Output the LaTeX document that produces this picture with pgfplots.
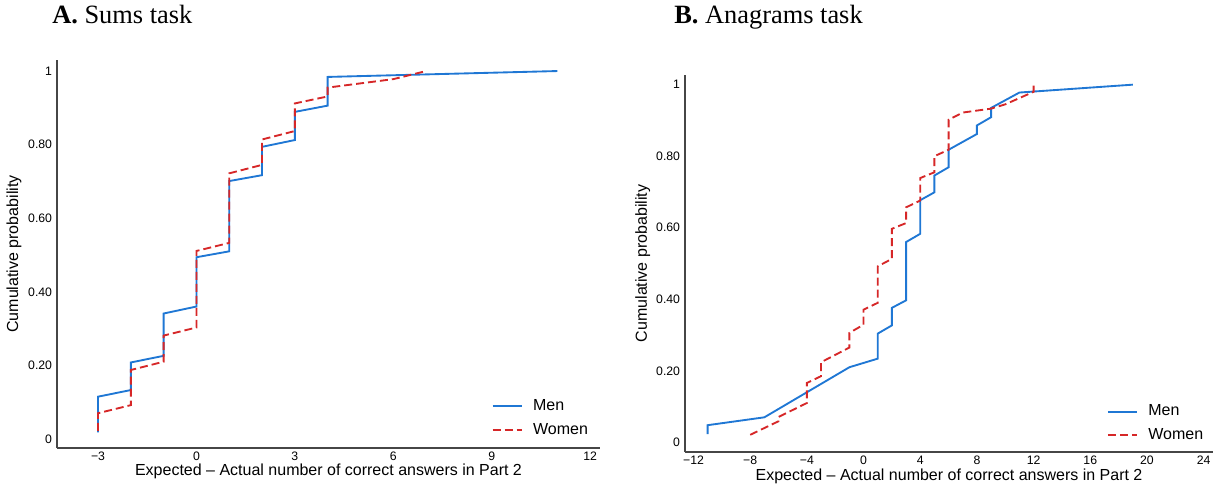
\documentclass[border=0pt]{standalone}
\usepackage{fontspec}
\setmainfont{Liberation Sans}
\newfontfamily\titlefont{Liberation Serif}
\usepackage{pgfplots}
\pgfplotsset{compat=1.18}
\definecolor{menblue}{RGB}{31,119,212}
\definecolor{womenred}{RGB}{214,39,40}
\definecolor{axgray}{RGB}{70,70,70}
\pgfplotsset{
  cdfstyle/.style={
    scale only axis,
    axis lines*=left,
    axis line style={axgray, line width=0.9pt},
    major tick length=0pt,
    tick style={draw=none},
    ytick={0,0.2,0.4,0.6,0.8,1},
    yticklabels={0,0.20,0.40,0.60,0.80,1},
    tick label style={font=\fontsize{9.2}{10}\selectfont, text=black},
    yticklabel style={inner sep=0pt, anchor=east, xshift=-3.5pt},
    xticklabel style={inner sep=0pt, anchor=north, yshift=-2.8pt},
    label style={font=\fontsize{12}{14}\selectfont},
    xlabel={Expected – Actual number of correct answers in Part 2},
    ylabel={Cumulative probability},
    legend style={draw=none, fill=none, inner sep=0pt, outer sep=0pt,
      font=\fontsize{12}{14}\selectfont, row sep=4.75pt,
      nodes={inner sep=1pt, text height=8.5pt, text depth=2.5pt},
      /tikz/every odd column/.append style={column sep=6.5pt},
      anchor=south west},
    legend cell align=left,
    legend image code/.code={\draw[#1, line width=1.6pt] (0pt,0pt) -- (22pt,0pt);},
    clip=false,
  },
  menline/.style={menblue, line width=1.4pt},
  womenline/.style={womenred, line width=1.4pt, dash pattern=on 6pt off 3pt},
}
\begin{document}
\begin{tikzpicture}
\useasboundingbox (0,0) rectangle (911.25pt,-364.5pt);
\node[anchor=base west, inner sep=0pt, font=\titlefont\fontsize{19.8}{22}\selectfont] at (39pt,-17.5pt) {\textbf{A.} Sums task};
\node[anchor=base west, inner sep=0pt, font=\titlefont\fontsize{19.8}{22}\selectfont] at (505.5pt,-17.8pt) {\textbf{B.} Anagrams task};

\begin{axis}[cdfstyle,
  at={(42.75pt,-336pt)}, anchor=south west,
  width=407.25pt, height=291pt,
  xmin=-4.25, xmax=12.3, ymin=-0.0245, ymax=1.03,
  xtick={-3,0,3,6,9,12},
  xticklabels={−3,0,3,6,9,12},
  xlabel style={at={(axis description cs:0.5,0)}, anchor=base, yshift=-20.5pt},
  ylabel style={at={(axis description cs:-0.079,0.5)}, anchor=center},
  legend style={at={(axis description cs:0.8005,0.0240)}},
]
\addplot[menline] coordinates {
(-3,0.018) (-3,0.115) (-2,0.133) (-2,0.208) (-1,0.226) (-1,0.341) (0,0.360) (0,0.494)
(1,0.510) (1,0.701) (2,0.717) (2,0.794) (3,0.8125) (3,0.889) (4,0.906) (4,0.984) (11,1.0)};
\addlegendentry{Men}
\addplot[womenline] coordinates {
(-3,0.022) (-3,0.070) (-2,0.092) (-2,0.1875) (-1,0.210) (-1,0.281) (0,0.303) (0,0.511)
(1,0.533) (1,0.722) (2,0.745) (2,0.814) (3,0.837) (3,0.912) (4,0.931) (4,0.955) (6,0.978) (7,1.0)};
\addlegendentry{Women}
\end{axis}

\begin{axis}[cdfstyle,
  at={(513.75pt,-339pt)}, anchor=south west,
  width=396pt, height=282.75pt,
  xmin=-12.6, xmax=24.66, ymin=-0.027, ymax=1.027,
  xtick={-12,-8,-4,0,4,8,12,16,20,24},
  xticklabels={−12,−8,−4,0,4,8,12,16,20,24},
  xlabel style={at={(axis description cs:0.5,0)}, anchor=base, yshift=-21.5pt},
  ylabel style={at={(axis description cs:-0.08,0.5)}, anchor=center},
  legend style={at={(axis description cs:0.799,0.0215)}},
]
\addplot[menline] coordinates {
(-11,0.023) (-11,0.048) (-7,0.070) (-1,0.21) (1,0.234) (1,0.304) (2,0.327) (2,0.376)
(3,0.397) (3,0.560) (4,0.583) (4,0.677) (5,0.699) (5,0.746) (6,0.769) (6,0.818)
(8,0.862) (8,0.886) (9,0.909) (9,0.935) (11,0.978) (19,1.0)};
\addlegendentry{Men}
\addplot[womenline] coordinates {
(-8,0.021) (-6,0.059) (-6,0.071) (-4,0.110) (-4,0.166) (-3,0.185) (-3,0.224) (-1,0.265)
(-1,0.306) (0,0.329) (0,0.371) (1,0.390) (1,0.492) (2,0.513) (2,0.597) (3,0.613)
(3,0.657) (4,0.676) (4,0.739) (5,0.755) (5,0.80) (6,0.818) (6,0.902) (7,0.922)
(9,0.933) (10,0.945) (12,0.98) (12,0.997)};
\addlegendentry{Women}
\end{axis}
\end{tikzpicture}
\end{document}
